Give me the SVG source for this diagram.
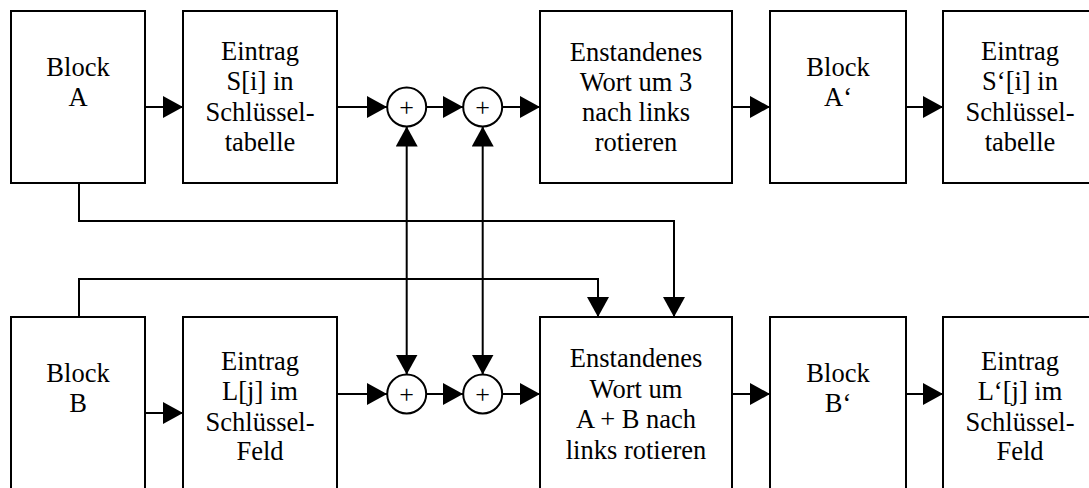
<svg xmlns="http://www.w3.org/2000/svg" width="1089" height="488" viewBox="0 0 1089 488">
<style>
.box{fill:#fff;stroke:#000;stroke-width:2}
.sum{fill:#fff;stroke:#000;stroke-width:2}
.t{font-family:'Liberation Serif','DejaVu Serif',serif;font-size:26.5px;fill:#000;text-anchor:middle}
.p{font-family:'Liberation Serif','DejaVu Serif',serif;font-size:26px;fill:#000;text-anchor:middle}
.c{fill:none;stroke:#000;stroke-width:2}
.a{marker-end:url(#ah)}
.d{marker-end:url(#ah);marker-start:url(#ah)}
</style>
<defs>
<marker id="ah" markerUnits="userSpaceOnUse" markerWidth="20" markerHeight="22" refX="20" refY="11" orient="auto-start-reverse" viewBox="0 0 20 22">
<path d="M0,0 L20,11 L0,22 Z" fill="#000"/>
</marker>
</defs>
<rect width="1089" height="488" fill="#fff"/>
<g id="connectors">
<line class="c a" x1="145" y1="107" x2="183" y2="107"/>
<line class="c a" x1="337" y1="107" x2="387" y2="107"/>
<line class="c a" x1="426" y1="107" x2="463" y2="107"/>
<line class="c a" x1="502" y1="107" x2="540" y2="107"/>
<line class="c a" x1="732" y1="107" x2="770" y2="107"/>
<line class="c a" x1="906" y1="107" x2="943" y2="107"/>
<line class="c a" x1="145" y1="413" x2="183" y2="413"/>
<line class="c a" x1="337" y1="394" x2="387" y2="394"/>
<line class="c a" x1="426" y1="394" x2="463" y2="394"/>
<line class="c a" x1="502" y1="394" x2="540" y2="394"/>
<line class="c a" x1="732" y1="394" x2="770" y2="394"/>
<line class="c a" x1="906" y1="394" x2="943" y2="394"/>
<line class="c d" x1="406.7" y1="126.5" x2="406.7" y2="374.5"/>
<line class="c d" x1="482.7" y1="126.5" x2="482.7" y2="374.5"/>
<polyline class="c a" points="79,183 79,221 674,221 674,317"/>
<polyline class="c a" points="79,317 79,279 598,279 598,317"/>
</g>
<g id="blockA"><rect class="box" x="11" y="11" width="134" height="172"/><text class="t" x="78" y="76" font-family="Liberation Serif">Block</text><text class="t" x="78" y="106">A</text></g>
<g id="S"><rect class="box" x="183" y="11" width="154" height="172"/><text class="t" x="260" y="60">Eintrag</text><text class="t" x="260" y="90">S[i] in</text><text class="t" x="260" y="120.5">Schlüssel-</text><text class="t" x="260" y="150.5">tabelle</text></g>
<g id="sumA1"><circle class="sum" cx="406.7" cy="107" r="19.5"/><text class="p" x="406.7" y="116">+</text></g>
<g id="sumA2"><circle class="sum" cx="482.7" cy="107" r="19.5"/><text class="p" x="482.7" y="116">+</text></g>
<g id="rotA"><rect class="box" x="540" y="11" width="192" height="172"/><text class="t" x="636" y="61">Enstandenes</text><text class="t" x="636" y="91">Wort um 3</text><text class="t" x="636" y="121">nach links</text><text class="t" x="636" y="151">rotieren</text></g>
<g id="blockA2"><rect class="box" x="770" y="11" width="136" height="172"/><text class="t" x="838" y="76">Block</text><text class="t" x="838" y="106">A‘</text></g>
<g id="S2"><rect class="box" x="943" y="11" width="154" height="172"/><text class="t" x="1020" y="60">Eintrag</text><text class="t" x="1020" y="90">S‘[i] in</text><text class="t" x="1020" y="120.5">Schlüssel-</text><text class="t" x="1020" y="150.5">tabelle</text></g>
<g id="blockB"><rect class="box" x="11" y="317" width="134" height="190"/><text class="t" x="78" y="382">Block</text><text class="t" x="78" y="412">B</text></g>
<g id="L"><rect class="box" x="183" y="317" width="154" height="190"/><text class="t" x="260" y="370">Eintrag</text><text class="t" x="260" y="400">L[j] im</text><text class="t" x="260" y="430.5">Schlüssel-</text><text class="t" x="260" y="460">Feld</text></g>
<g id="sumB1"><circle class="sum" cx="406.7" cy="394" r="19.5"/><text class="p" x="406.7" y="403">+</text></g>
<g id="sumB2"><circle class="sum" cx="482.7" cy="394" r="19.5"/><text class="p" x="482.7" y="403">+</text></g>
<g id="rotB"><rect class="box" x="540" y="317" width="192" height="190"/><text class="t" x="636" y="367">Enstandenes</text><text class="t" x="636" y="397.5">Wort um</text><text class="t" x="636" y="428">A + B nach</text><text class="t" x="636" y="459">links rotieren</text></g>
<g id="blockB2"><rect class="box" x="770" y="317" width="136" height="190"/><text class="t" x="838" y="382">Block</text><text class="t" x="838" y="412">B‘</text></g>
<g id="L2"><rect class="box" x="943" y="317" width="154" height="190"/><text class="t" x="1020" y="370">Eintrag</text><text class="t" x="1020" y="400">L‘[j] im</text><text class="t" x="1020" y="430.5">Schlüssel-</text><text class="t" x="1020" y="460">Feld</text></g>
</svg>
